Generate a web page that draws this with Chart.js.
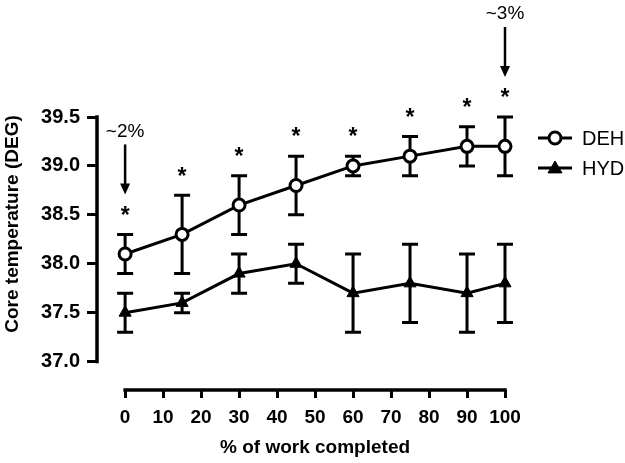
<!DOCTYPE html>
<html>
<head>
<meta charset="utf-8">
<script src="https://cdn.jsdelivr.net/npm/chart.js@4.4.0/dist/chart.umd.min.js"></script>
<style>
    html, body { margin: 0; padding: 0; background: #fff; }
    #wrap { width: 625px; height: 463px; }
</style>
</head>
<body>
<div id="wrap"><canvas id="coreTempChart"></canvas></div>
<script>
// Data
const workDone = [0, 15, 30, 45, 60, 75, 90, 100];
const dehMean = [38.1, 38.3, 38.6, 38.8, 39.0, 39.1, 39.2, 39.2];
const dehErr = [0.2, 0.4, 0.3, 0.3, 0.1, 0.2, 0.2, 0.3];
const hydMean = [37.5, 37.6, 37.9, 38.0, 37.7, 37.8, 37.7, 37.8];
const hydErr = [0.2, 0.1, 0.2, 0.2, 0.4, 0.4, 0.4, 0.4];
const starAt = [0, 15, 30, 45, 60, 75, 90, 100];
const noteAt = [0, 100];
const noteText = ['~2%', '~3%'];
const xTicks = [0, 10, 20, 30, 40, 50, 60, 70, 80, 90, 100];
const yTicks = [37.0, 37.5, 38.0, 38.5, 39.0, 39.5];

const FONT = "'Liberation Sans', Arial, sans-serif";
const INK = '#000';

// Error bars, axis lines, significance marks, legend and axis titles
const decorations = {
    id: 'decorations',
    beforeDatasetsDraw(chart) {
        const ctx = chart.ctx;
        const x = chart.scales.x, y = chart.scales.y;
        ctx.save();
        ctx.strokeStyle = INK;
        ctx.lineWidth = 3;
        chart.data.datasets.forEach(ds => {
            ds.errors.forEach((e, i) => {
                const px = x.getPixelForValue(workDone[i]);
                const top = y.getPixelForValue(ds.data[i].y + e);
                const bot = y.getPixelForValue(ds.data[i].y - e);
                ctx.beginPath();
                ctx.moveTo(px, top); ctx.lineTo(px, bot);
                ctx.moveTo(px - 8, top); ctx.lineTo(px + 8, top);
                ctx.moveTo(px - 8, bot); ctx.lineTo(px + 8, bot);
                ctx.stroke();
            });
        });
        ctx.restore();
    },
    afterDraw(chart) {
        const ctx = chart.ctx;
        const x = chart.scales.x, y = chart.scales.y;
        const area = chart.chartArea;
        ctx.save();
        ctx.strokeStyle = INK;
        ctx.fillStyle = INK;

        // offset axis lines
        ctx.lineWidth = 3.5;
        ctx.lineCap = 'square';
        ctx.beginPath();
        ctx.moveTo(area.left, y.getPixelForValue(yTicks[0]));
        ctx.lineTo(area.left, y.getPixelForValue(yTicks[yTicks.length - 1]));
        ctx.moveTo(x.getPixelForValue(xTicks[0]), area.bottom);
        ctx.lineTo(x.getPixelForValue(xTicks[xTicks.length - 1]), area.bottom);
        ctx.stroke();
        ctx.lineCap = 'butt';

        // asterisks above DEH error bars
        const starY = {};
        ctx.font = 'bold 23px ' + FONT;
        ctx.textAlign = 'center';
        ctx.textBaseline = 'middle';
        starAt.forEach(v => {
            const i = workDone.indexOf(v);
            const px = x.getPixelForValue(v);
            const py = y.getPixelForValue(dehMean[i] + dehErr[i]) - 22;
            starY[v] = py;
            ctx.fillText('*', px, py + 4);
        });

        // arrows with percentage notes
        ctx.lineWidth = 2.5;
        ctx.font = '19px ' + FONT;
        noteAt.forEach((v, k) => {
            const px = x.getPixelForValue(v);
            const tip = starY[v] - 18;
            const tail = tip - 50;
            ctx.beginPath();
            ctx.moveTo(px, tail); ctx.lineTo(px, tip - 8);
            ctx.stroke();
            ctx.beginPath();
            ctx.moveTo(px - 5, tip - 11); ctx.lineTo(px + 5, tip - 11); ctx.lineTo(px, tip);
            ctx.closePath();
            ctx.fill();
            ctx.fillText(noteText[k], px, tail - 13);
        });

        // legend
        ctx.textAlign = 'left';
        ctx.font = '20px ' + FONT;
        chart.data.datasets.forEach((ds, k) => {
            const ly = 138 + k * 30;
            ctx.lineWidth = 3;
            ctx.beginPath();
            ctx.moveTo(538, ly); ctx.lineTo(572, ly);
            ctx.stroke();
            ctx.fillStyle = ds.pointBackgroundColor;
            ctx.lineWidth = ds.pointBorderWidth;
            ctx.beginPath();
            if (ds.pointStyle === 'circle') {
                ctx.arc(555, ly, ds.pointRadius, 0, Math.PI * 2);
            } else {
                ctx.moveTo(555, ly - ds.pointRadius);
                ctx.lineTo(555 + ds.pointRadius, ly + ds.pointRadius * 0.7);
                ctx.lineTo(555 - ds.pointRadius, ly + ds.pointRadius * 0.7);
                ctx.closePath();
            }
            ctx.fill();
            ctx.stroke();
            ctx.fillStyle = INK;
            ctx.fillText(ds.label, 582, ly + 1);
        });

        // axis titles
        ctx.font = 'bold 19px ' + FONT;
        ctx.textAlign = 'center';
        ctx.fillText('% of work completed', x.getPixelForValue(50), 448);
        ctx.translate(13, 224);
        ctx.rotate(-Math.PI / 2);
        ctx.fillText('Core temperature (DEG)', 0, 0);
        ctx.restore();
    }
};

new Chart(document.getElementById('coreTempChart'), {
    type: 'line',
    data: {
        datasets: [
            {
                label: 'DEH',
                data: workDone.map((w, i) => ({ x: w, y: dehMean[i] })),
                errors: dehErr,
                borderColor: INK,
                borderWidth: 3,
                pointStyle: 'circle',
                pointRadius: 6,
                pointBorderWidth: 3,
                pointBackgroundColor: '#fff',
                pointBorderColor: INK,
                clip: false
            },
            {
                label: 'HYD',
                data: workDone.map((w, i) => ({ x: w, y: hydMean[i] })),
                errors: hydErr,
                borderColor: INK,
                borderWidth: 3,
                pointStyle: 'triangle',
                pointRadius: 7,
                pointBorderWidth: 1,
                pointBackgroundColor: INK,
                pointBorderColor: INK,
                clip: false
            }
        ]
    },
    options: {
        responsive: true,
        maintainAspectRatio: false,
        animation: false,
        layout: { padding: { top: 117, right: 120, left: 0, bottom: 0 } },
        plugins: { legend: { display: false }, tooltip: { enabled: false } },
        scales: {
            x: {
                type: 'linear',
                min: -7.4,
                max: 100,
                afterBuildTicks: scale => { scale.ticks = xTicks.map(v => ({ value: v })); },
                afterFit: scale => { scale.height = 73; },
                border: { display: false },
                grid: { drawOnChartArea: false, color: INK, lineWidth: 3, tickLength: 8 },
                ticks: {
                    color: INK, padding: 8, maxRotation: 0, autoSkip: false,
                    font: { family: FONT, size: 19, weight: 'bold' }
                }
            },
            y: {
                min: 36.71,
                max: 39.5,
                afterBuildTicks: scale => { scale.ticks = yTicks.map(v => ({ value: v })); },
                afterFit: scale => { scale.width = 97; },
                border: { display: false },
                grid: { drawOnChartArea: false, color: INK, lineWidth: 3, tickLength: 10 },
                ticks: {
                    color: INK, padding: 7,
                    callback: v => v.toFixed(1),
                    font: { family: FONT, size: 20, weight: 'bold' }
                }
            }
        }
    },
    plugins: [decorations]
});
</script>
</body>
</html>
